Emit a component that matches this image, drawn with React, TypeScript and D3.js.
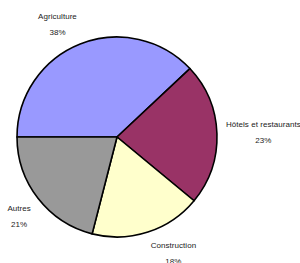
import * as d3 from "d3";
import React, { useEffect, useRef } from "react";

// Data
const categories = ["Agriculture", "Hôtels et restaurants", "Construction", "Autres"];
const shares = [38, 23, 18, 21];
const sliceColors = ["#9999FF", "#993366", "#FFFFCC", "#999999"];

const App = () => {
  const ref = useRef<SVGSVGElement | null>(null);

  useEffect(() => {
    const svg = d3.select(ref.current);
    svg.selectAll("*").remove();

    const width = 300;
    const height = 263;
    const cx = 117;
    const cy = 137;
    const radius = 100;

    const data = categories.map((name, i) => ({ name, value: shares[i], color: sliceColors[i] }));

    // start at 9 o'clock, go clockwise
    const pie = d3
      .pie<any>()
      .sort(null)
      .value((d) => d.value)
      .startAngle(-Math.PI / 2)
      .endAngle((3 * Math.PI) / 2);

    const arc = d3.arc<any>().innerRadius(0).outerRadius(radius);

    const g = svg.append("g").attr("transform", `translate(${cx},${cy})`);
    const arcs = pie(data);

    g.selectAll("path")
      .data(arcs)
      .enter()
      .append("path")
      .attr("d", arc)
      .attr("fill", (d) => d.data.color)
      .attr("stroke", "#000")
      .attr("stroke-width", 1.6)
      .attr("stroke-linejoin", "round");

    // labels: nearest corner of the label block sits on the mid-angle ray
    const labelR = radius + 9;
    const blockH = 24;
    const clamp = (v: number) => Math.max(-1, Math.min(1, v * 3.5));

    const labels = g
      .selectAll("g.lbl")
      .data(arcs)
      .enter()
      .append("g")
      .attr("class", "lbl")
      .style("font-family", "'Liberation Sans', Arial, sans-serif")
      .style("font-size", "8px")
      .style("letter-spacing", "0.05px")
      .attr("fill", "#222")
      .attr("text-anchor", "middle");

    labels.each(function (d) {
      const el = d3.select(this);
      const mid = (d.startAngle + d.endAngle) / 2;
      const sx = Math.sin(mid);
      const sy = -Math.cos(mid);
      const t1 = el.append("text").attr("y", -blockH / 2 + 7).text(d.data.name);
      const t2 = el.append("text").attr("y", -blockH / 2 + 23).text(`${d.data.value}%`);
      const w = Math.max(
        (t1.node() as SVGTextElement).getComputedTextLength(),
        (t2.node() as SVGTextElement).getComputedTextLength()
      );
      const x = labelR * sx + (clamp(sx) * w) / 2;
      const y = labelR * sy + (clamp(sy) * blockH) / 2;
      el.attr("transform", `translate(${x},${y})`);
    });

    svg.attr("width", width).attr("height", height);
  }, []);

  return (
    <>
      <style>{`body{margin:0;background:#fff}`}</style>
      <svg ref={ref} width={300} height={263} style={{ display: "block" }} />
    </>
  );
};

export default App;
